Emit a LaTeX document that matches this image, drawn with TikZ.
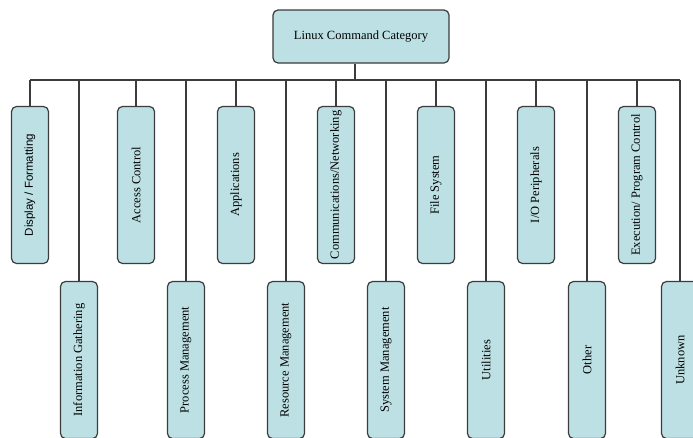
\documentclass[tikz,border=0pt]{standalone}
\usepackage{fontspec}
\setmainfont{Liberation Serif}
\newfontfamily\arialfont{Liberation Sans}
\definecolor{boxfill}{RGB}{188,224,227}
\definecolor{boxline}{RGB}{60,60,60}
\tikzset{
  catbox/.style={draw=boxline, fill=boxfill, line width=1.2pt, rounded corners=5pt,
    inner sep=2pt, font=\fontsize{12.5}{14}\selectfont},
  vbox/.style={catbox, rotate=90, minimum width=157pt, minimum height=37pt},
  link/.style={draw=boxline, line width=1.2pt}
}
\begin{document}
\begin{tikzpicture}[x=1pt, y=-1pt]
    \useasboundingbox (0,0) rectangle (693,437);
    \clip (0,0) rectangle (693,437);
    \fill[white] (0,0) rectangle (693,437);

    \node[catbox, minimum width=176pt, minimum height=53pt] (a1) at (361,36.5) {Linux Command Category};
    \coordinate (hub) at (355,80);
    \draw[link] (a1.south -| hub) -- (hub);

    % upper row
    \node[vbox, font=\arialfont\fontsize{11.5}{13}\selectfont] (b1) at (30,185) {Display / Formatting};
    \node[vbox] (b2) at (136,185) {Access Control};
    \node[vbox] (b3) at (236,185) {Applications};
    \node[vbox] (b4) at (336,185) {Communications/Networking};
    \node[vbox] (b5) at (436,185) {File System};
    \node[vbox] (b6) at (536,185) {I/O Peripherals};
    \node[vbox] (b7) at (637,185) {Execution/ Program Control};

    % lower row
    \node[vbox] (c1) at (79,360) {Information Gathering};
    \node[vbox] (c2) at (186,360) {Process Management};
    \node[vbox] (c3) at (286,360) {Resource Management};
    \node[vbox] (c4) at (386,360) {System Management};
    \node[vbox] (c5) at (486,360) {Utilities};
    \node[vbox] (c6) at (587,360) {Other};
    \node[vbox] (c7) at (680,360) {Unknown};

    \draw[link] (b1 |- hub) -- (c7 |- hub);
    \draw[link] (b1 |- hub) -- (b1);
    \draw[link] (b2 |- hub) -- (b2);
    \draw[link] (b3 |- hub) -- (b3);
    \draw[link] (b4 |- hub) -- (b4);
    \draw[link] (b5 |- hub) -- (b5);
    \draw[link] (b6 |- hub) -- (b6);
    \draw[link] (b7 |- hub) -- (b7);
    \draw[link] (c1 |- hub) -- (c1);
    \draw[link] (c2 |- hub) -- (c2);
    \draw[link] (c3 |- hub) -- (c3);
    \draw[link] (c4 |- hub) -- (c4);
    \draw[link] (c5 |- hub) -- (c5);
    \draw[link] (c6 |- hub) -- (c6);
    \draw[link] (c7 |- hub) -- (c7);
  \end{tikzpicture}
\end{document}
